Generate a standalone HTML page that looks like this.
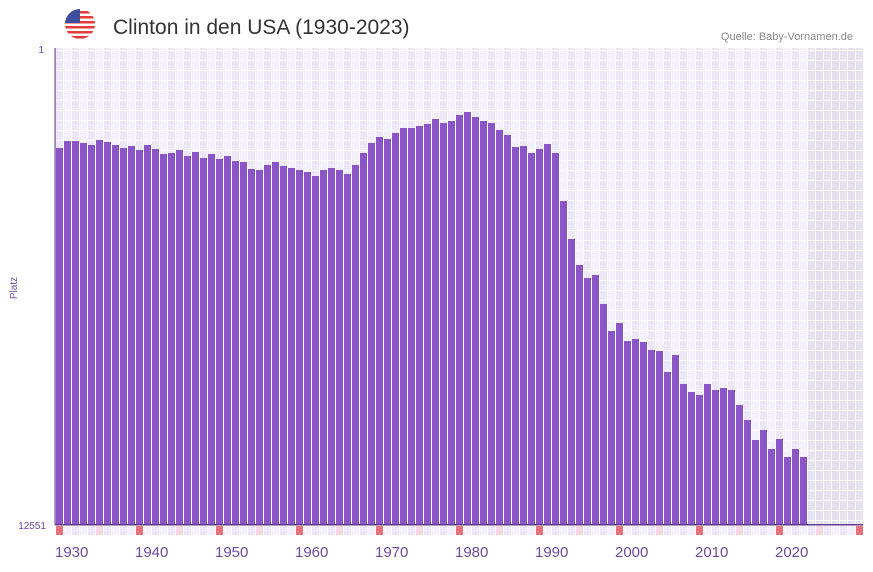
<!DOCTYPE html>
<html><head><meta charset="utf-8"><style>
body{margin:0;background:#fff;width:873px;height:567px;overflow:hidden;font-family:"Liberation Sans",sans-serif}
</style></head><body>
<svg id="s" width="873" height="567" xmlns="http://www.w3.org/2000/svg" font-family="Liberation Sans, sans-serif">
<defs><clipPath id="fc"><circle cx="80" cy="24" r="15"/></clipPath></defs>
<g clip-path="url(#fc)">
<rect x="65" y="9" width="30" height="30" fill="#fff"/>
<rect x="65" y="11" width="30" height="2.5" fill="#e53b3b"/>
<rect x="65" y="16" width="30" height="2.5" fill="#e53b3b"/>
<rect x="65" y="21" width="30" height="2.5" fill="#e53b3b"/>
<rect x="65" y="26" width="30" height="2.5" fill="#e53b3b"/>
<rect x="65" y="31" width="30" height="2.5" fill="#e53b3b"/>
<rect x="65" y="36" width="30" height="2.5" fill="#e53b3b"/>
<rect x="65" y="9" width="15" height="14" fill="#3f4f9e"/>
</g>
<text x="113" y="34" font-size="21" fill="#333">Clinton in den USA (1930-2023)</text>
<text x="853" y="40" font-size="11" fill="#888" text-anchor="end">Quelle: Baby-Vornamen.de</text>
<text x="44" y="53" font-size="10" fill="#6b4aa0" text-anchor="end">1</text>
<text x="46" y="529" font-size="10" fill="#6b4aa0" text-anchor="end">12551</text>
<text x="17" y="288" font-size="10" fill="#6b4aa0" text-anchor="middle" transform="rotate(-90 17 288)">Platz</text>
<g id="g"></g>
</svg>
<script>
var g=document.getElementById('g'),h='';
var tops=[148,141,141,143,145,140,142,145,148,146,150,145,149,154,153,150,156,152,158,154,159,156,161,162,169,170,165,162,166,168,170,172,176,170,168,170,174,165,153,143,137,139,133,128,128,126,124,119,123,121,115,112,117,121,123,130,135,147,146,153,149,144,153,201,239,265,278,275,304,331,323,341,339,342,350,351,372,355,384,392,395,384,390,388,390,405,420,440,430,449,439,457,449,457];
for(var k=0;k<101;k++){var x=55+8*k;var grey=k>=94;
 h+='<rect x="'+x+'" y="48" width="8" height="477" fill="'+(grey?(k%2?'#e3dfed':'#e6e2ef'):(k%2?'#f3effb':'#ede8f8'))+'"/>';
 var yr=1930+k,c;
 if(yr%10==0)c='#e8737a';else if(yr%5==0)c='#f5d8df';else c=(k%2?'#f3effb':'#ede8f8');
 h+='<rect x="'+(x+1)+'" y="526" width="7" height="9" fill="'+c+'"/>';
 if(yr%10==0&&yr<=2020)h+='<text x="'+x+'" y="557" font-size="15" fill="#6b4aa0">'+yr+'</text>';
}
for(var k=0;k<=101;k++)h+='<rect x="'+(55+8*k)+'" y="48" width="1" height="477" fill="#fff"/>';
for(var y=50;y<525;y+=10)h+='<rect x="55" y="'+y+'" width="808" height="1" fill="#fff"/>';
for(var i=0;i<tops.length;i++)h+='<rect x="'+(56+8*i)+'" y="'+tops[i]+'" width="7" height="'+(525-tops[i])+'" fill="#8b55c6"/>';
h+='<rect x="55" y="524" width="808" height="1.5" fill="#5e3a94"/><rect x="54.5" y="48" width="1.2" height="477" fill="#6b4aa0"/>';
g.innerHTML=h;
</script>
</body></html>
